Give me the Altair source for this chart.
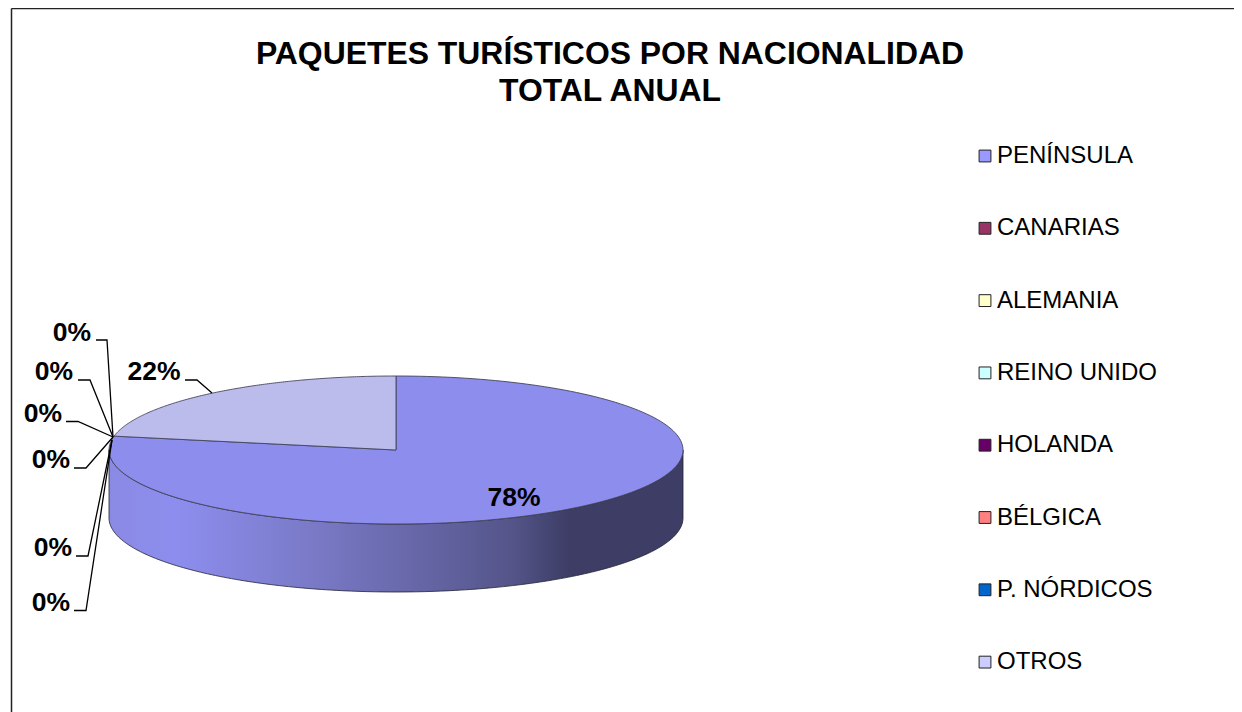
import numpy as np
import pandas as pd
import altair as alt

# --- values ---
categories = ["PENÍNSULA", "CANARIAS", "ALEMANIA", "REINO UNIDO", "HOLANDA", "BÉLGICA", "P. NÓRDICOS", "OTROS"]
shares = [78, 0, 0, 0, 0, 0, 0, 22]
legend_colors = ["#9999FF", "#993366", "#FFFFCC", "#CCFFFF", "#660066", "#FF8080", "#0066CC", "#CCCCFF"]
face_colors = ["#8D8DEE", "#8D2F5E", "#EBEBBC", "#BCEBEB", "#5E005E", "#EB7676", "#005EBC", "#BBBBEC"]
title_lines = ["PAQUETES TURÍSTICOS POR NACIONALIDAD", "TOTAL ANUAL"]

# --- layout of the drawing (pixels inside the chart) ---
W, H = 1226, 704
CX, CY, RX, RY, DEPTH = 388, 442, 287, 74, 68
FONT = "Liberation Sans"

def rim(a):
    return CX + RX * np.sin(a), CY - RY * np.cos(a)

def feature(points, fill):
    pts = [[float(x), float(y)] for x, y in points]
    pts.append(pts[0])
    return {"type": "Feature", "geometry": {"type": "Polygon", "coordinates": [pts]},
            "properties": {"fill": fill}}

# Slices, start at 12 o'clock going clockwise
total = sum(shares)
edges = np.cumsum([0] + shares) / total * 2 * np.pi
faces = []
for s, c, a0, a1 in zip(shares, face_colors, edges[:-1], edges[1:]):
    if s > 0:
        arc = [rim(a) for a in np.linspace(a0, a1, 181)]
        faces.append(feature([(CX, CY)] + arc, c))

# Wall: the front half of the rim, pushed down by the depth
front = np.linspace(np.pi / 2, 3 * np.pi / 2, 181)
top_edge = [rim(a) for a in front]
bottom_edge = [(x, y + DEPTH) for x, y in top_edge][::-1]
wall = [feature(top_edge + bottom_edge, "wall")]

proj = dict(type="identity", scale=1, translate=[0, 0])
wall_fill = alt.Gradient(
    gradient="linear", x1=0, x2=1, y1=0, y2=0,
    stops=[
        alt.GradientStop(offset=0.0, color="#8A8AE4"),
        alt.GradientStop(offset=0.12, color="#8D8DEE"),
        alt.GradientStop(offset=0.35, color="#7A7AC8"),
        alt.GradientStop(offset=0.55, color="#6565A5"),
        alt.GradientStop(offset=0.70, color="#55558A"),
        alt.GradientStop(offset=0.80, color="#3D3D66"),
        alt.GradientStop(offset=1.0, color="#3D3D66"),
    ],
)
wall_layer = alt.Chart(alt.Data(values=wall)).mark_geoshape(
    fill=wall_fill, stroke="#222233", strokeWidth=0.8
).project(**proj)
face_layer = alt.Chart(alt.Data(values=faces)).mark_geoshape(
    stroke="#44445A", strokeWidth=0.9
).encode(fill=alt.Color("properties.fill:N", scale=None)).project(**proj)

# Frame: only the top and left edges fall inside the picture
frame = pd.DataFrame({"x": [3.5, 3.5], "x2": [W, 3.5], "y": [0.5, 0.5], "y2": [0.5, H]})
frame_layer = alt.Chart(frame).mark_rule(color="#222222", strokeWidth=1.5).encode(
    x=alt.X("x:Q", scale=None), x2="x2:Q", y=alt.Y("y:Q", scale=None), y2="y2:Q"
)

# Percentage labels with their leader lines
pct = [f"{round(s / total * 100)}%" for s in shares]
label_rows = [
    (0, 506, 489.5, None),
    (6, 43, 595, [(66, 602.5), (78, 602.5), (104, 432)]),
    (5, 45, 540, [(68, 548), (80, 548), (104, 432)]),
    (4, 43, 452, [(66, 460), (78, 460), (105, 429)]),
    (3, 35, 406, [(58, 413.5), (70, 413.5), (105, 429)]),
    (2, 46, 364, [(70, 372), (82, 372), (105, 429)]),
    (1, 64, 325, [(88, 332), (99, 332), (105, 429)]),
    (7, 146, 364, [(177, 372), (189, 372), (204, 385)]),
]
labels = pd.DataFrame([{"t": pct[i], "x": x, "y": y} for i, x, y, _ in label_rows])
label_layer = alt.Chart(labels).mark_text(
    font=FONT, fontWeight="bold", fontSize=26.5, color="black", align="center", baseline="middle"
).encode(x=alt.X("x:Q", scale=None), y=alt.Y("y:Q", scale=None), text="t:N")

leaders = pd.DataFrame([
    {"id": n, "ord": k, "x": p[0], "y": p[1]}
    for n, (_, _, _, path) in enumerate(label_rows) if path
    for k, p in enumerate(path)
])
leader_layer = alt.Chart(leaders).mark_line(color="black", strokeWidth=1.3).encode(
    x=alt.X("x:Q", scale=None), y=alt.Y("y:Q", scale=None),
    detail="id:N", order="ord:Q"
)

# Legend, carried by a layer of invisible marks
legend_df = pd.DataFrame({"cat": categories})
legend_layer = alt.Chart(legend_df).mark_square(opacity=0).encode(
    x=alt.value(0), y=alt.value(0),
    color=alt.Color(
        "cat:N",
        scale=alt.Scale(domain=categories, range=legend_colors),
        legend=alt.Legend(
            title=None, orient="none", legendX=965, legendY=136,
            symbolType="square", symbolSize=140, symbolStrokeColor="#222222",
            symbolStrokeWidth=1, symbolOpacity=1, labelFont=FONT, labelFontSize=24,
            labelColor="black", labelOffset=0, rowPadding=48.3, labelLimit=300,
        ),
    ),
)

chart = alt.layer(
    frame_layer, wall_layer, face_layer, leader_layer, label_layer, legend_layer
).properties(
    width=W, height=H, padding=0, autosize=alt.AutoSizeParams(type="none"),
    title=alt.TitleParams(
        text=title_lines, font=FONT, fontSize=31.9, fontWeight="bold", color="black",
        anchor="start", frame="group", orient="top", offset=-103, dx=602, lineHeight=37,
        align="center",
    ),
    background="white",
).configure_view(stroke=None)

chart.save("out.html", embed_options={"renderer": "svg", "actions": False})
